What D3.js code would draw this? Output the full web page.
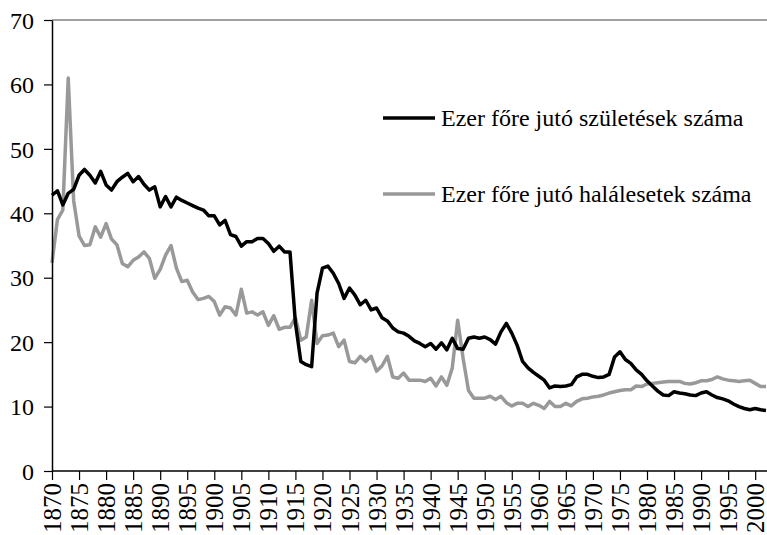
<!DOCTYPE html>
<html>
<head>
<meta charset="utf-8">
<script src="https://cdnjs.cloudflare.com/ajax/libs/d3/7.8.5/d3.min.js"></script>
<style>
  body { margin: 0; background: #fff; }
  text { font-family: 'Liberation Serif' !important; }
</style>
</head>
<body>
<div id="chart"></div>
<script>
// years on the category axis
var firstYear = 1870
var lastYear = 2002

// births per thousand (black line)
var births = [
  42.8, 43.5, 41.3, 43.1, 43.7, 45.9, 46.8, 45.9, 44.7, 46.5,
  44.4, 43.6, 44.9, 45.6, 46.2, 44.9, 45.7, 44.5, 43.6, 44.1,
  41.0, 42.6, 41.0, 42.5, 42.0, 41.6, 41.2, 40.8, 40.5, 39.6,
  39.6, 38.2, 38.9, 36.7, 36.4, 34.9, 35.6, 35.6, 36.1, 36.1,
  35.3, 34.1, 34.9, 34.0, 34.0, 23.0, 17.0, 16.5, 16.2, 27.6,
  31.5, 31.8, 30.7, 29.1, 26.8, 28.4, 27.3, 25.8, 26.5, 25.0,
  25.3, 23.8, 23.3, 22.2, 21.6, 21.4, 20.9, 20.2, 19.8, 19.3,
  19.8, 18.9, 19.9, 18.8, 20.6, 19.0, 18.9, 20.6, 20.8, 20.6,
  20.8, 20.4, 19.7, 21.6, 22.9, 21.4, 19.5, 17.0, 16.0, 15.3,
  14.7, 14.1, 12.9, 13.2, 13.1, 13.2, 13.4, 14.6, 15.0, 15.0,
  14.7, 14.5, 14.6, 15.0, 17.7, 18.5, 17.3, 16.7, 15.7, 15.0,
  14.0, 13.2, 12.4, 11.8, 11.7, 12.3, 12.1, 12.0, 11.8, 11.7,
  12.1, 12.3, 11.8, 11.4, 11.2, 10.9, 10.4, 10.0, 9.7, 9.5,
  9.7, 9.5, 9.4
]

// deaths per thousand (grey line)
var deaths = [
  32.3, 39.0, 40.5, 61.0, 42.0, 36.5, 35.0, 35.1, 37.9, 36.3,
  38.4, 36.0, 35.1, 32.2, 31.7, 32.7, 33.2, 34.0, 33.0, 29.9,
  31.3, 33.5, 35.0, 31.5, 29.4, 29.6, 27.8, 26.6, 26.8, 27.1,
  26.3, 24.2, 25.5, 25.3, 24.2, 28.2, 24.5, 24.7, 24.2, 24.7,
  22.6, 24.1, 22.0, 22.3, 22.3, 23.8, 20.3, 20.8, 26.5, 19.8,
  21.0, 21.1, 21.4, 19.3, 20.3, 17.0, 16.8, 17.8, 17.0, 17.8,
  15.5, 16.3, 17.8, 14.6, 14.4, 15.2, 14.1, 14.1, 14.1, 13.9,
  14.4, 13.2, 14.6, 13.3, 16.0, 23.4, 17.5, 12.5, 11.3, 11.3,
  11.3, 11.6, 11.1, 11.6, 10.6, 10.1, 10.5, 10.5, 10.0, 10.5,
  10.2, 9.7, 10.8, 10.0, 10.0, 10.5, 10.1, 10.8, 11.2, 11.3,
  11.5, 11.6, 11.8, 12.1, 12.3, 12.5, 12.6, 12.6, 13.2, 13.1,
  13.5, 13.6, 13.7, 13.8, 13.9, 13.9, 13.9, 13.6, 13.5, 13.7,
  14.0, 14.0, 14.2, 14.6, 14.3, 14.1, 14.0, 13.9, 14.0, 14.1,
  13.6, 13.1, 13.1
]

var yTicks = [0, 10, 20, 30, 40, 50, 60, 70]
var xTicks = d3.range(firstYear, 2001, 5)

var seriesNames = ['Ezer főre jutó születések száma', 'Ezer főre jutó halálesetek száma']
var seriesColors = ['#000000', '#999999']

var width = 767
var height = 535
var margin = {top: 20, right: 1, bottom: 64, left: 52}

var years = d3.range(firstYear, lastYear + 1)

var svg = d3.select('#chart')
  .append('svg')
  .attr('width', width)
  .attr('height', height)

var x = d3.scaleLinear()
  .domain([firstYear, lastYear])
  .range([margin.left, width - margin.right])

var y = d3.scaleLinear()
  .domain([0, 70])
  .range([height - margin.bottom, margin.top])

// top border of the plot area
svg.append('line')
  .attr('x1', margin.left)
  .attr('x2', width)
  .attr('y1', y(70))
  .attr('y2', y(70))
  .attr('stroke', '#808080')
  .attr('stroke-width', 1.5)

var line = d3.line()
  .x((d, i) => { return x(years[i]) })
  .y((d) => { return y(d) })

svg.append('path')
  .datum(deaths)
  .attr('fill', 'none')
  .attr('stroke', seriesColors[1])
  .attr('stroke-width', 3.5)
  .attr('stroke-linejoin', 'round')
  .attr('d', line)

svg.append('path')
  .datum(births)
  .attr('fill', 'none')
  .attr('stroke', seriesColors[0])
  .attr('stroke-width', 3.5)
  .attr('stroke-linejoin', 'round')
  .attr('d', line)

// y axis
var yAxis = svg.append('g')
  .attr('transform', 'translate(' + margin.left + ',0)')
  .call(d3.axisLeft(y).tickValues(yTicks).tickSize(8).tickSizeOuter(0).tickPadding(10))
yAxis.attr('font-family', null).attr('font-size', null)
yAxis.select('.domain').attr('stroke', '#000').attr('stroke-width', 1.5)
yAxis.selectAll('.tick line').attr('stroke', '#000').attr('stroke-width', 1.2)
yAxis.selectAll('.tick text')
  .style('font-family', "'Liberation Serif'")
  .style('font-size', '24px')
  .attr('fill', '#000')
  .attr('dy', '0.34em')

// x axis
var xAxis = svg.append('g')
  .attr('transform', 'translate(0,' + y(0) + ')')
  .call(d3.axisBottom(x).tickValues(xTicks).tickFormat(d3.format('d')).tickSize(9).tickSizeOuter(0))
xAxis.attr('font-family', null).attr('font-size', null)
xAxis.select('.domain')
  .attr('d', 'M' + margin.left + ',0H' + width)
  .attr('stroke', '#000')
  .attr('stroke-width', 1.5)
xAxis.selectAll('.tick line').attr('stroke', '#000').attr('stroke-width', 1.2)
xAxis.selectAll('.tick text')
  .style('font-family', "'Liberation Serif'")
  .style('font-size', '25px')
  .attr('fill', '#000')
  .attr('text-anchor', 'end')
  .attr('transform', 'translate(0,12) rotate(-90)')
  .attr('x', 0)
  .attr('y', 0)
  .attr('dy', '0.34em')

// legend
var legend = svg.append('g')
legend.selectAll('line')
  .data(seriesNames)
  .enter()
  .append('line')
  .attr('x1', 383)
  .attr('x2', 435)
  .attr('y1', (d, i) => { return 118 + i * 76 })
  .attr('y2', (d, i) => { return 118 + i * 76 })
  .attr('stroke', (d, i) => { return seriesColors[i] })
  .attr('stroke-width', 3.5)
legend.selectAll('text')
  .data(seriesNames)
  .enter()
  .append('text')
  .attr('x', 441)
  .attr('y', (d, i) => { return 126 + i * 76 })
  .style('font-family', "'Liberation Serif'")
  .style('font-size', '24px')
  .attr('fill', '#000')
  .text((d) => { return d })
</script>
</body>
</html>
